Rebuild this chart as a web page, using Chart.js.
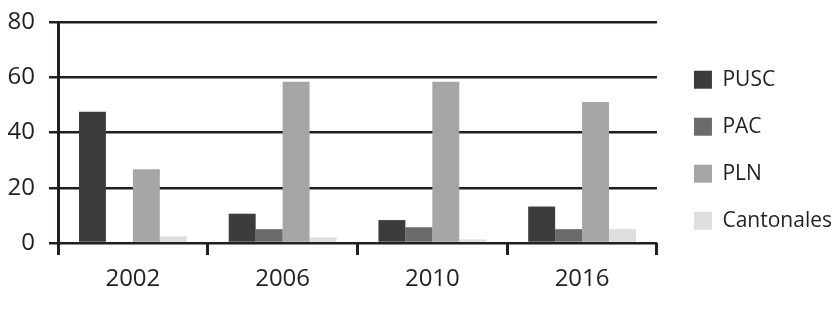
<!DOCTYPE html>
<html>
<head>
<meta charset="utf-8">
<script src="https://cdn.jsdelivr.net/npm/chart.js@4/dist/chart.umd.min.js"></script>
<style>
  html, body { margin: 0; padding: 0; background: #fff; }
  #wrap { width: 840px; height: 317px; position: relative; }
</style>
</head>
<body>
<div id="wrap"><canvas id="chart"></canvas></div>
<script>
// categories and series
const years = ['2002', '2006', '2010', '2016'];
const pusc = [47.5, 10.6, 8.3, 13.2];
const pac = [0, 5.0, 5.7, 5.0];
const pln = [26.7, 58.4, 58.4, 51.0];
const cantonales = [2.4, 2.0, 1.3, 5.0];

const yMax = 80;
const yStep = 20;

const ink = '#231f20';
const fontFamily = '"Open Sans", "DejaVu Sans", sans-serif';

// nudge the legend a bit away from the plot
const legendShift = {
    id: 'legendShift',
    afterLayout(chart) {
        chart.legend.left += 11;
        chart.legend.right += 11;
    }
};

const ctx = document.getElementById('chart').getContext('2d');

new Chart(ctx, {
    type: 'bar',
    data: {
        labels: years,
        datasets: [
            { label: 'PUSC', data: pusc, backgroundColor: '#3c3c3c' },
            { label: 'PAC', data: pac, backgroundColor: '#6b6b6b' },
            { label: 'PLN', data: pln, backgroundColor: '#a6a6a6' },
            { label: 'Cantonales', data: cantonales, backgroundColor: '#dedede' }
        ]
    },
    options: {
        responsive: true,
        maintainAspectRatio: false,
        animation: false,
        datasets: {
            bar: { categoryPercentage: 0.72, barPercentage: 1.0 }
        },
        layout: {
            padding: { top: 22, right: 9, bottom: 0, left: 0 }
        },
        plugins: {
            tooltip: { enabled: false },
            legend: {
                position: 'right',
                align: 'start',
                title: { display: true, text: ' ', padding: 4, font: { size: 11 } },
                labels: {
                    boxWidth: 18,
                    boxHeight: 18,
                    padding: 26,
                    color: ink,
                    font: { family: fontFamily, size: 21 }
                }
            }
        },
        scales: {
            x: {
                grid: {
                    display: true,
                    offset: true,
                    drawOnChartArea: false,
                    color: ink,
                    lineWidth: 3,
                    tickLength: 12
                },
                border: { display: false },
                ticks: {
                    color: ink,
                    padding: 10,
                    font: { family: fontFamily, size: 24 }
                },
                afterFit: function(scale) { scale.height = 74; }
            },
            y: {
                min: 0,
                max: yMax,
                ticks: {
                    stepSize: yStep,
                    color: ink,
                    padding: 14,
                    font: { family: fontFamily, size: 24 }
                },
                grid: {
                    color: ink,
                    lineWidth: 2.5,
                    tickLength: 9
                },
                border: { display: true, color: ink, width: 3 },
                afterFit: function(scale) {
                    scale.width = 58;
                    scale.paddingTop = 0;
                    scale.paddingBottom = 0;
                }
            }
        }
    },
    plugins: [legendShift]
});
</script>
</body>
</html>
